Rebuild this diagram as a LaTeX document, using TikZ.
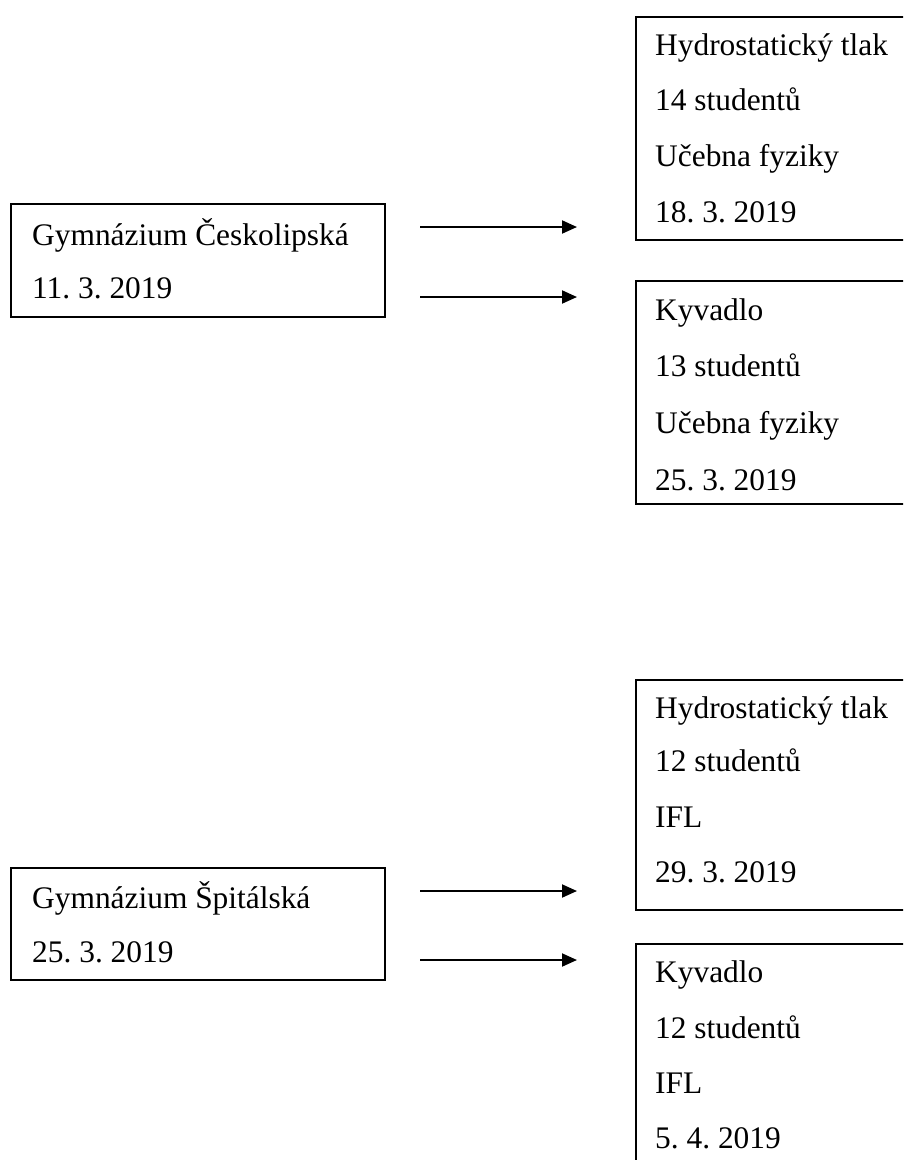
\documentclass[tikz,border=0pt]{standalone}
\usepackage{fontspec}
\setmainfont{Liberation Serif}
\frenchspacing
\usetikzlibrary{arrows.meta}
\begin{document}
\begin{tikzpicture}[x=1pt,y=-1pt,
  box/.style={draw=black,line width=2pt,anchor=north west,inner sep=0pt,minimum width=#1},
  box/.default=400pt,
  txt/.style={anchor=base west,inner sep=0pt,font=\fontsize{31.4}{37}\selectfont\frenchspacing},
  arr/.style={line width=2pt,-{Triangle[length=15pt,width=13pt]}}]
\useasboundingbox (0,0) rectangle (903,1160);
\clip (0,0) rectangle (903,1160);
% left boxes
\node[box=374pt,minimum height=113pt] (g1) at (10,203) {};
\node[txt] (g1a) at (32,245) {Gymnázium Českolipská};
\node[txt] (g1b) at (32,298) {11. 3. 2019};
\node[box=374pt,minimum height=112pt] (g2) at (10,867) {};
\node[txt] (g2a) at (32,908) {Gymnázium Špitálská};
\node[txt] (g2b) at (32,962) {25. 3. 2019};
% right boxes
\node[box,minimum height=223pt] (r1) at (635,16) {};
\node[txt] (r1a) at (655,55) {Hydrostatický tlak};
\node[txt] (r1b) at (655,110) {14 studentů};
\node[txt] (r1c) at (655,166) {Učebna fyziky};
\node[txt] (r1d) at (655,222) {18. 3. 2019};
\node[box,minimum height=223pt] (r2) at (635,280) {};
\node[txt] (r2a) at (655,320) {Kyvadlo};
\node[txt] (r2b) at (655,376) {13 studentů};
\node[txt] (r2c) at (655,433) {Učebna fyziky};
\node[txt] (r2d) at (655,490) {25. 3. 2019};
\node[box,minimum height=230pt] (r3) at (635,679) {};
\node[txt] (r3a) at (655,718) {Hydrostatický tlak};
\node[txt] (r3b) at (655,771) {12 studentů};
\node[txt] (r3c) at (655,827) {IFL};
\node[txt] (r3d) at (655,882) {29. 3. 2019};
\node[box,minimum height=260pt] (r4) at (635,943) {};
\node[txt] (r4a) at (655,982) {Kyvadlo};
\node[txt] (r4b) at (655,1038) {12 studentů};
\node[txt] (r4c) at (655,1093) {IFL};
\node[txt] (r4d) at (655,1148) {5. 4. 2019};
% arrows
\coordinate (a1s) at (420,227); \coordinate (a1e) at (577,227);
\coordinate (a2s) at (420,297); \coordinate (a2e) at (577,297);
\coordinate (a3s) at (420,891); \coordinate (a3e) at (577,891);
\coordinate (a4s) at (420,960); \coordinate (a4e) at (577,960);
\draw[arr] (a1s) -- (a1e);
\draw[arr] (a2s) -- (a2e);
\draw[arr] (a3s) -- (a3e);
\draw[arr] (a4s) -- (a4e);
\end{tikzpicture}
\end{document}
